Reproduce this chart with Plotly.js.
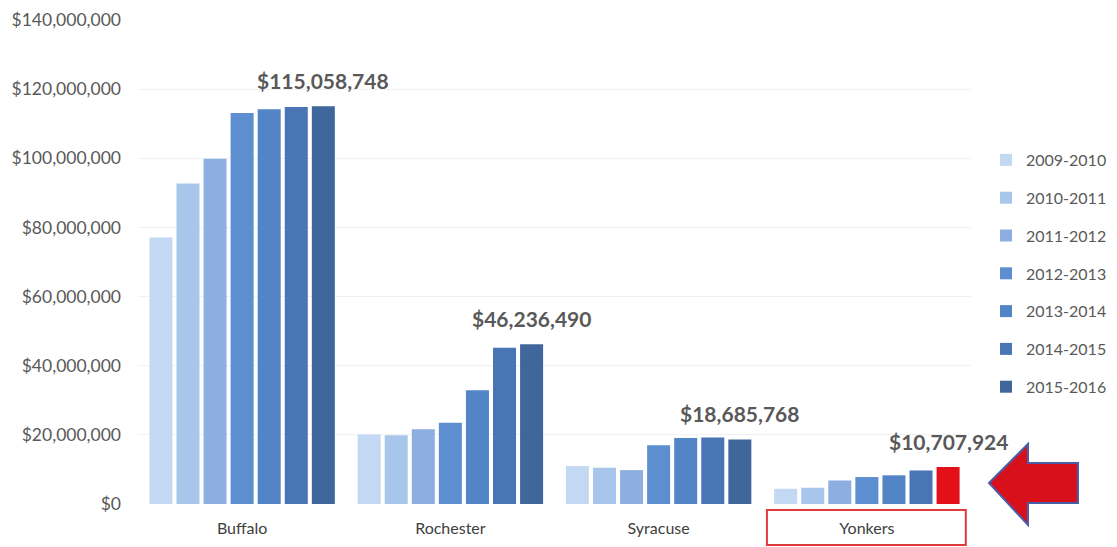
<!DOCTYPE html>
<html>
<head>
<meta charset="utf-8">
<script src="https://cdn.plot.ly/plotly-3.0.1.min.js"></script>
<style>html,body{margin:0;padding:0;background:#fff;}#chart{width:1117px;height:547px;}</style>
</head>
<body>
<div id="chart"></div>
<script>
// ---- data ----
const cities = ["Buffalo", "Rochester", "Syracuse", "Yonkers"];
const years = ["2009-2010", "2010-2011", "2011-2012", "2012-2013", "2013-2014", "2014-2015", "2015-2016"];
// values per year, in city order
const v2009 = [77100000, 20100000, 11000000, 4400000];
const v2010 = [92700000, 19900000, 10500000, 4700000];
const v2011 = [99900000, 21600000, 9800000, 6800000];
const v2012 = [113100000, 23500000, 17000000, 7800000];
const v2013 = [114200000, 32900000, 19100000, 8300000];
const v2014 = [114800000, 45200000, 19200000, 9700000];
const v2015 = [115058748, 46236490, 18685768, 10707924];
const yTicks = [0, 20000000, 40000000, 60000000, 80000000, 100000000, 120000000, 140000000];

const series = [v2009, v2010, v2011, v2012, v2013, v2014, v2015];
const colors = ["#c3d9f3", "#a8c6ec", "#8caee0", "#5d8fd0", "#5385c6", "#4a75b4", "#3f679c"];
const highlightColor = "#e3101a";

const bargap = 0.09;
const traces = series.map((vals, i) => {
  let c = colors[i];
  if (i === series.length - 1) {
    c = cities.map(name => name === "Yonkers" ? highlightColor : colors[i]);
  }
  return {
    type: "bar",
    name: years[i],
    x: cities,
    y: vals,
    marker: {color: c},
    legendgroup: "g" + i,
    hoverinfo: "none"
  };
});

// plot geometry helpers (for decorative shapes)
const W = 1117, H = 547, mL = 138, mR = 146, mT = 20, mB = 43;
const pw = W - mL - mR, ph = H - mT - mB;
const px = x => (x - mL) / pw;
const py = y => 1 - (y - mT) / ph;

const fmt = v => "$" + v.toLocaleString("en-US");
const lastOffset = 3 * (1 - bargap) / years.length;
const annotations = cities.map((c, i) => ({
  x: i + lastOffset, xref: "x",
  y: v2015[i], yref: "y",
  text: "<b>" + fmt(v2015[i]) + "</b>",
  showarrow: false,
  yanchor: "bottom",
  yshift: 11,
  font: {family: "Lato, 'Open Sans', sans-serif", size: 21, color: "#595959"}
}));

const arrowPath = [
  "M", px(989), py(483),
  "L", px(1028), py(444),
  "L", px(1028), py(463),
  "L", px(1078), py(463),
  "L", px(1078), py(503),
  "L", px(1028), py(503),
  "L", px(1028), py(525),
  "Z"
].join(" ");

const layout = {
  width: W, height: H,
  margin: {l: mL, r: mR, t: mT, b: mB, pad: 0, autoexpand: false},
  paper_bgcolor: "#ffffff",
  plot_bgcolor: "#ffffff",
  barmode: "group",
  bargap: bargap,
  bargroupgap: 0.15,
  font: {family: "Lato, 'Open Sans', sans-serif", color: "#595959", size: 16},
  showlegend: true,
  legend: {
    x: px(986), xanchor: "left",
    y: py(143), yanchor: "top",
    traceorder: "grouped",
    tracegroupgap: 14,
    font: {size: 16, color: "#595959"},
    itemwidth: 30,
    bgcolor: "rgba(0,0,0,0)"
  },
  xaxis: {
    type: "category",
    range: [-0.5, cities.length - 0.5],
    showgrid: false,
    zeroline: false,
    showline: false,
    ticks: "",
    ticklabelstandoff: 13,
    tickfont: {size: 16, color: "#404040"}
  },
  yaxis: {
    range: [0, 140000000],
    tickvals: yTicks,
    tickformat: "$,",
    showgrid: true,
    gridcolor: "#f1f1f1",
    gridwidth: 1,
    zeroline: false,
    showline: false,
    ticks: "",
    ticklabelstandoff: 16,
    tickfont: {size: 17.5, color: "#595959"}
  },
  annotations: annotations,
  shapes: [
    {type: "rect", xref: "x", yref: "paper",
     x0: 3 - 0.48, x1: 3 + 0.475, y0: py(510), y1: py(545),
     line: {color: "#e0393e", width: 2}, fillcolor: "rgba(0,0,0,0)"},
    {type: "path", xref: "paper", yref: "paper", path: arrowPath,
     fillcolor: "#d8101c", line: {color: "#4a5ea8", width: 2}}
  ]
};

Plotly.newPlot("chart", traces, layout, {displayModeBar: false, staticPlot: true});
</script>
</body>
</html>
